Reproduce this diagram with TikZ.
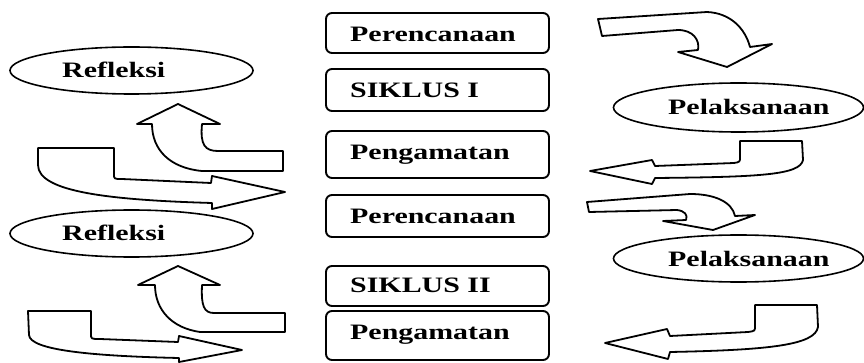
\documentclass[tikz,border=0pt]{standalone}
\usepackage{fontspec}
\setmainfont{Liberation Serif}
\usetikzlibrary{shapes.geometric}
\tikzset{
  stepbox/.style={draw, line width=1.9pt, rounded corners=6pt, minimum width=223pt, minimum height=#1, inner sep=0pt},
  oval/.style={draw, ellipse, line width=1.6pt, minimum width=243pt, minimum height=47pt, inner sep=0pt},
  lbl/.style={anchor=base west, inner sep=0pt, font=\fontsize{22}{22}\selectfont\bfseries},
  blockarrow/.style={draw, line width=1.8pt, line join=round, fill=white}
}
\newcommand{\wide}[1]{\scalebox{1.36}[1]{#1}}
\begin{document}
\begin{tikzpicture}[x=1pt, y=-1pt]
\useasboundingbox (0,0) rectangle (864,363);
% center boxes
\node[stepbox=40pt] (b1) at (437.5,33) {};
\node[stepbox=42pt] (b2) at (437.5,90) {};
\node[stepbox=47pt] (b3) at (437.5,154.5) {};
\node[stepbox=42pt] (b4) at (437.5,216) {};
\node[stepbox=40pt] (b5) at (437.5,286) {};
\node[stepbox=49pt] (b6) at (437.5,335.5) {};
\node[lbl] (t1) at (350,41.7) {\wide{Perencanaan}};
\node[lbl] (t2) at (350,97.7) {\wide{SIKLUS I}};
\node[lbl] (t3) at (350,160) {\wide{Pengamatan}};
\node[lbl] (t4) at (350,224) {\wide{Perencanaan}};
\node[lbl] (t5) at (350,292.7) {\wide{SIKLUS II}};
\node[lbl] (t6) at (350,339) {\wide{Pengamatan}};
% ellipses
\node[oval] (r1) at (131.5,70.5) {};
\node[oval] (r2) at (131.5,233.5) {};
\node[oval, minimum width=250pt, minimum height=49pt] (p1) at (738.5,107.5) {};
\node[oval, minimum width=250pt, minimum height=47pt] (p2) at (738.5,258.5) {};
\node[lbl] (tr1) at (62,77.3) {\wide{Refleksi}};
\node[lbl] (tr2) at (62,241) {\wide{Refleksi}};
\node[lbl] (tp1) at (668,114.3) {\wide{Pelaksanaan}};
\node[lbl] (tp2) at (668,266) {\wide{Pelaksanaan}};
% A1: top right curved down arrow
\draw[blockarrow] (598,19) -- (602,36) -- (678,30) .. controls (693,30) and (700,40) .. (698,50)
  -- (678,52) -- (727,67) -- (772,44) -- (750,47) .. controls (745,28) and (730,13) .. (707,12) -- cycle;
% A2: left arrow under Pelaksanaan 1
\draw[blockarrow] (590,171) -- (652,160) -- (655,166) -- (734,163) .. controls (740,162) .. (740,157)
  -- (740,141) -- (802,141) -- (803,160) .. controls (800,175) and (760,177) .. (655,178) -- (652,184) -- cycle;
% A4: left big right arrow (first)
\draw[blockarrow] (38,148) -- (114,148) -- (114,174) .. controls (114,179) .. (122,179) -- (211,183)
  -- (212,176) -- (285,192) -- (212,209) -- (212,203) .. controls (110,200) and (38,192) .. (38,165) -- cycle;
% A3: up arrow to Refleksi 1
\draw[blockarrow] (178,104) -- (220,124) -- (202,124) .. controls (200,145) and (205,151) .. (218,151)
  -- (283,151) -- (283,171) -- (202,171) .. controls (170,168) and (152,150) .. (152,124) -- (137,124) -- cycle;
% A5: second right curved arrow
\draw[blockarrow] (587,202) -- (589,212) -- (677,210) .. controls (685,211) and (688,215) .. (686,220)
  -- (663,221) -- (713,230) -- (755,215) -- (735,216) .. controls (732,202) and (715,194) .. (690,194) -- cycle;
% A6: second left arrow
\draw[blockarrow] (605,343) -- (667,329) -- (670,336) -- (748,332) .. controls (755,331) .. (755,326)
  -- (755,305) -- (817,305) -- (818,327) .. controls (815,345) and (770,350) .. (670,352) -- (668,359) -- cycle;
% A8: second left right arrow
\draw[blockarrow] (28,311) -- (91,311) -- (91,334) .. controls (91,339) .. (100,339) -- (178,342)
  -- (179,336) -- (242,350) -- (179,362) -- (179,358) .. controls (90,356) and (30,350) .. (29,335) -- cycle;
% A7: second up arrow to Refleksi 2
\draw[blockarrow] (178,266) -- (220,285) -- (202,285) .. controls (201,306) and (204,313) .. (214,313)
  -- (285,313) -- (285,332) -- (200,332) .. controls (172,328) and (155,310) .. (155,285) -- (138,285) -- cycle;
\end{tikzpicture}
\end{document}
